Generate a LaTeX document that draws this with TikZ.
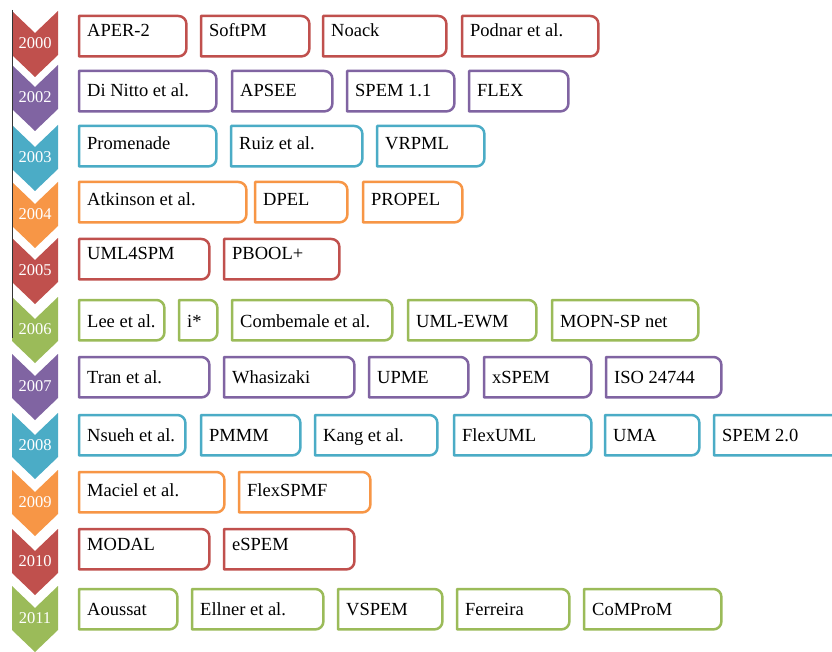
\documentclass[tikz,border=0pt]{standalone}
\usepackage{fontspec}
\setmainfont{Liberation Serif}
\definecolor{cRed}{HTML}{C0504D}
\definecolor{cPur}{HTML}{8064A2}
\definecolor{cTeal}{HTML}{4BACC6}
\definecolor{cOra}{HTML}{F79646}
\definecolor{cGrn}{HTML}{9BBB59}
\tikzset{
  boxn/.style={draw=none, inner sep=0pt, minimum height=40pt, anchor=north west},
  boxframe/.style={line width=2.5pt, line join=round},
  boxtext/.style={inner sep=0pt, anchor=base west, font=\fontsize{18.5}{20}\selectfont},
  yeartext/.style={inner sep=0pt, text=white, font=\fontsize{16.5}{18}\selectfont},
}
% row settings: top, baseline offset, colour
\newcommand\setrow[3]{\def\rtop{#1}\def\rbase{#2}\def\rcol{#3}}
% box: name, x1, x2, text
\newcommand\yb[4]{%
  \node[boxn, minimum width={#3pt-#2pt-2pt}] (#1) at (#2+1,-\rtop-1) {};
  \draw[boxframe, draw=\rcol] (#1.north west) -- ([xshift=-8pt]#1.north east)
     arc[start angle=90, end angle=0, radius=8pt] -- ([yshift=8pt]#1.south east)
     arc[start angle=0, end angle=-90, radius=8pt] -- (#1.south west) -- cycle;
  \node[boxtext] (#1-t) at ([xshift=8pt, yshift=-\rbase pt]#1.north west) {#4};
}
% chevron: name, centre y, colour, year
\newcommand\chev[4]{%
  \fill[#3] (12,-#2+32) -- (35,-#2+10) -- (58,-#2+32) -- (58,-#2-12)
     -- (35,-#2-34) -- (12,-#2-12) -- cycle;
  \node[yeartext] (#1) at (35,-#2) {#4};
}
\begin{document}
\begin{tikzpicture}[x=1pt,y=1pt]
\useasboundingbox (0,0) rectangle (832,-652);
\clip (0,0) rectangle (832,-652);
\fill[white] (0,0) rectangle (832,-652);

\chev{y2000}{43}{cRed}{2000}
\chev{y2002}{97}{cPur}{2002}
\chev{y2003}{157}{cTeal}{2003}
\chev{y2004}{214}{cOra}{2004}
\chev{y2005}{270}{cRed}{2005}
\chev{y2006}{329}{cGrn}{2006}
\chev{y2007}{386}{cPur}{2007}
\chev{y2008}{445}{cTeal}{2008}
\chev{y2009}{502}{cOra}{2009}
\chev{y2010}{561}{cRed}{2010}
\chev{y2011}{618}{cGrn}{2011}
\draw[line width=0.8pt, black!80] (12.5,-10) -- (12.5,-338);

\setrow{15}{21}{cRed}
\yb{aper}{78}{187}{APER-2}
\yb{softpm}{200}{310}{SoftPM}
\yb{noack}{322}{447}{Noack}
\yb{podnar}{461}{599}{Podnar et al.}

\setrow{70}{26}{cPur}
\yb{dinitto}{78}{217}{Di Nitto et al.}
\yb{apsee}{231}{333}{APSEE}
\yb{spemA}{346}{455}{SPEM 1.1}
\yb{flex}{468}{569}{FLEX}

\setrow{125}{24}{cTeal}
\yb{promenade}{78}{217}{Promenade}
\yb{ruiz}{230}{363}{Ruiz et al.}
\yb{vrpml}{376}{485}{VRPML}

\setrow{181}{24}{cOra}
\yb{atkinson}{78}{247}{Atkinson et al.}
\yb{dpel}{254}{348}{DPEL}
\yb{propel}{362}{463}{PROPEL}

\setrow{238}{21}{cRed}
\yb{umlspm}{78}{210}{UML4SPM}
\yb{pbool}{223}{340}{PBOOL+}

\setrow{299}{27}{cGrn}
\yb{lee}{78}{165}{Lee et al.}
\yb{istar}{178}{218}{i*}
\yb{combemale}{231}{393}{Combemale et al.}
\yb{umlewm}{407}{537}{UML-EWM}
\yb{mopn}{551}{699}{MOPN-SP net}

\setrow{356}{26}{cPur}
\yb{tran}{78}{210}{Tran et al.}
\yb{whasizaki}{223}{355}{Whasizaki}
\yb{upme}{368}{469}{UPME}
\yb{xspem}{483}{592}{xSPEM}
\yb{iso}{605}{722}{ISO 24744}

\setrow{414}{26}{cTeal}
\yb{nsueh}{78}{186}{Nsueh et al.}
\yb{pmmm}{200}{301}{PMMM}
\yb{kang}{314}{438}{Kang et al.}
\yb{flexuml}{453}{592}{FlexUML}
\yb{uma}{604}{700}{UMA}
\yb{spemB}{713}{845}{SPEM 2.0}

\setrow{471}{24}{cOra}
\yb{maciel}{78}{225}{Maciel et al.}
\yb{flexspmf}{238}{371}{FlexSPMF}

\setrow{528}{21}{cRed}
\yb{modal}{78}{210}{MODAL}
\yb{espem}{223}{355}{eSPEM}

\setrow{588}{26}{cGrn}
\yb{aoussat}{78}{178}{Aoussat}
\yb{ellner}{191}{324}{Ellner et al.}
\yb{vspem}{337}{443}{VSPEM}
\yb{ferreira}{456}{570}{Ferreira}
\yb{comprom}{583}{722}{CoMProM}
\end{tikzpicture}
\end{document}
